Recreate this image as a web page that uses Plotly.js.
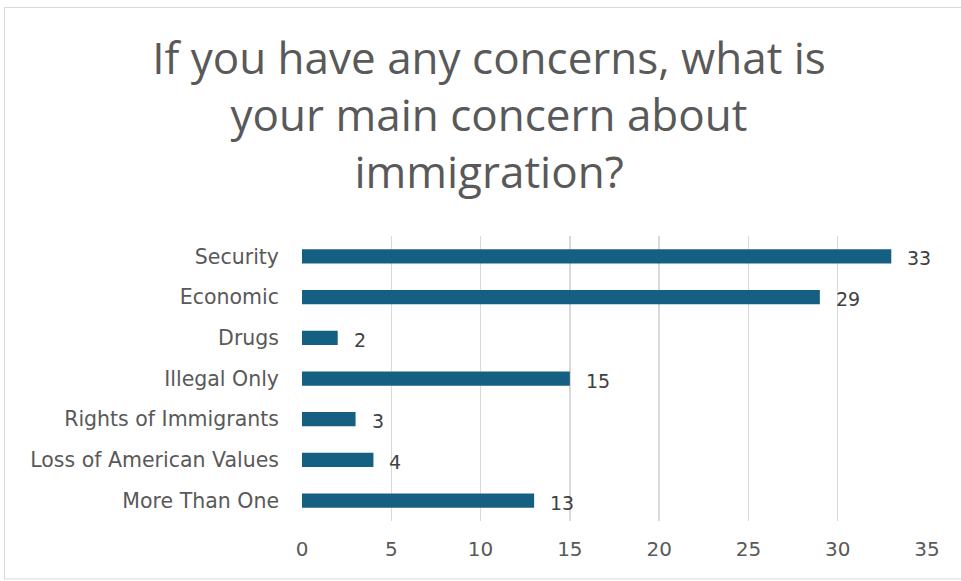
<!DOCTYPE html>
<html>
<head>
<meta charset="utf-8">
<script src="https://cdn.plot.ly/plotly-3.0.1.min.js"></script>
<style>html,body{margin:0;padding:0;background:#fff;}#chart{width:961px;height:581px;}</style>
</head>
<body>
<div id="chart"></div>
<script>
const categories = ["Security", "Economic", "Drugs", "Illegal Only", "Rights of Immigrants", "Loss of American Values", "More Than One"];
const counts = [33, 29, 2, 15, 3, 4, 13];
const xTicks = [0, 5, 10, 15, 20, 25, 30, 35];
const titleText = "If you have any concerns, what is<br>your main concern about<br>immigration?";

const TITLE_FONT = "Open Sans, Liberation Sans, Arial, sans-serif";
const FONT = "DejaVu Sans, Open Sans, Arial, sans-serif";

const trace = {
  type: "bar",
  orientation: "h",
  y: categories,
  x: counts,
  width: 0.35,
  marker: {color: "#156082", line: {width: 0}},
  hoverinfo: "x+y"
};

const annotations = categories.map((c, i) => ({
  x: counts[i], y: c, xref: "x", yref: "y",
  text: String(counts[i]), showarrow: false,
  xanchor: "left", yanchor: "middle", xshift: 14, yshift: -2,
  font: {family: FONT, size: 19, color: "#404040"}
}));

const layout = {
  width: 961, height: 581,
  paper_bgcolor: "#ffffff", plot_bgcolor: "#ffffff",
  margin: {l: 302, r: 34, t: 236, b: 60, pad: 0},
  showlegend: false,
  title: {
    text: titleText,
    font: {family: TITLE_FONT, size: 44, color: "#595959"},
    x: 489 / 961, xanchor: "center",
    yref: "container", y: 1 - 74 / 581, yanchor: "middle"
  },
  xaxis: {
    range: [0, 35],
    tickvals: xTicks,
    ticktext: xTicks.map(String),
    showgrid: true, gridcolor: "#d9d9d9", gridwidth: 1.5,
    zeroline: false, showline: false, ticks: "",
    tickfont: {family: FONT, size: 20, color: "#595959"},
    ticklabelstandoff: 14,
    fixedrange: true
  },
  yaxis: {
    autorange: "reversed",
    showgrid: false, zeroline: false, showline: false, ticks: "",
    tickfont: {family: FONT, size: 20.5, color: "#595959"},
    ticklabelstandoff: 22,
    fixedrange: true
  },
  annotations: annotations,
  shapes: [{
    type: "rect", xref: "paper", yref: "paper",
    x0: (4.5 - 302) / 625, x1: (966 - 302) / 625,
    y0: (521 - 579) / 285, y1: (521 - 7.5) / 285,
    line: {color: "#d9d9d9", width: 1}, fillcolor: "rgba(0,0,0,0)",
    layer: "below"
  }],
  bargap: 0.65
};

Plotly.newPlot("chart", [trace], layout, {displayModeBar: false, staticPlot: true});
</script>
</body>
</html>
